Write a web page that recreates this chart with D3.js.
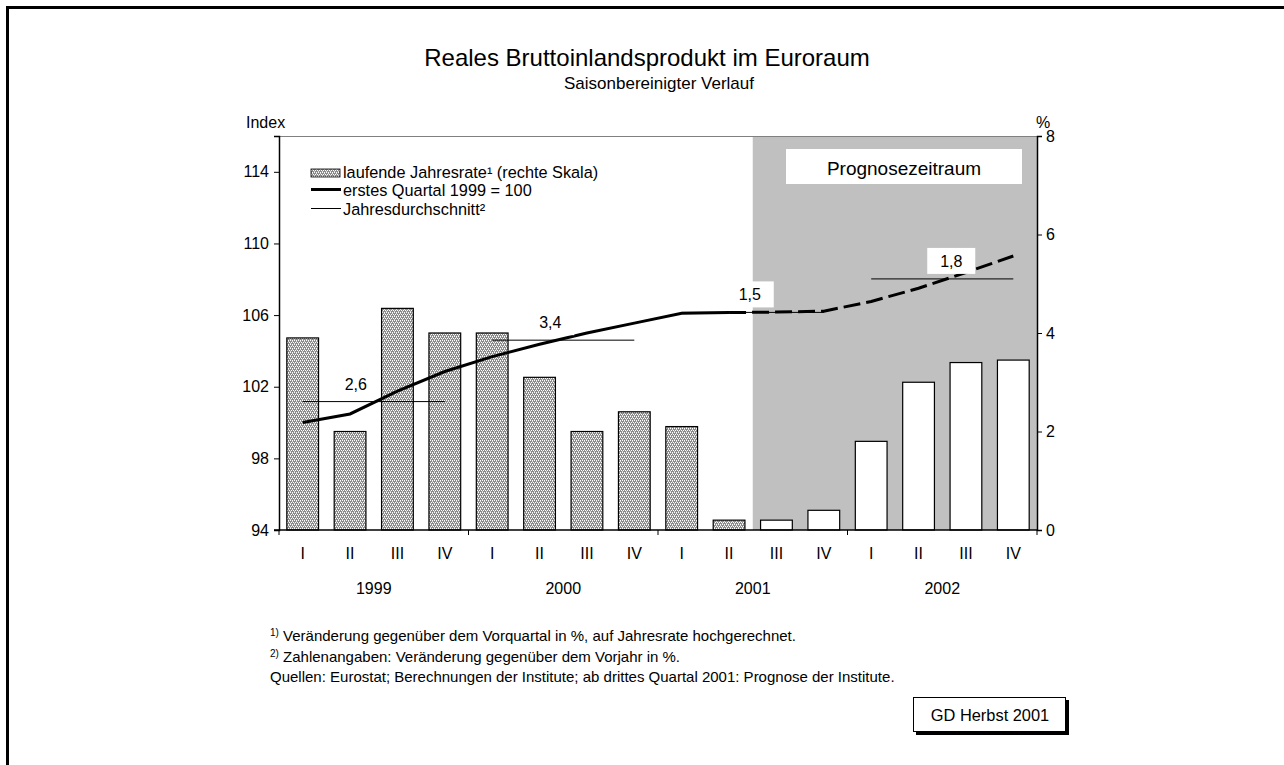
<!DOCTYPE html>
<html>
<head>
<meta charset="utf-8">
<script src="https://cdn.jsdelivr.net/npm/d3@7"></script>
<style>
  body { margin: 0; background: #fff; }
  svg { display: block; font-family: Arial, "Liberation Sans", sans-serif; }
</style>
</head>
<body>
<div id="chart"></div>
<script>
// Data
var years = ["1999", "2000", "2001", "2002"];
var quarters = ["I", "II", "III", "IV"];
// laufende Jahresrate in % (rechte Skala)
var rate = [3.9, 2.0, 4.5, 4.0, 4.0, 3.1, 2.0, 2.4, 2.1, 0.2, 0.2, 0.4, 1.8, 3.0, 3.4, 3.45];
// Index, erstes Quartal 1999 = 100
var index = [100.0, 100.48, 101.75, 102.85, 103.68, 104.37, 105.0, 105.55,
             106.1, 106.14, 106.17, 106.22, 106.76, 107.5, 108.38, 109.3];
// Jahresdurchschnitt (Indexniveau) und Veränderung gegenüber Vorjahr
var yearAvg = [101.17, 104.6, 106.15, 108.02];
var yearAvgLabel = ["2,6", "3,4", "1,5", "1,8"];
var forecastFrom = 10; // 2001 III
var leftTicks = [94, 98, 102, 106, 110, 114];
var rightTicks = [0, 2, 4, 6, 8];

var W = 1284, H = 765;
var X0 = 279, X1 = 1037, Y0 = 530, Y1 = 136;

var svg = d3.select("#chart").append("svg")
    .attr("width", W)
    .attr("height", H);

// bar fill pattern
var pat = svg.append("defs").append("pattern")
    .attr("id", "dots")
    .attr("patternUnits", "userSpaceOnUse")
    .attr("width", 4)
    .attr("height", 4);
pat.append("rect").attr("width", 4).attr("height", 4).attr("fill", "#8c8c8c");
[[0, 0], [2, 0], [1, 2], [3, 2], [0, 1], [2, 3]].forEach(function(p, i) {
    pat.append("rect")
        .attr("x", p[0]).attr("y", p[1])
        .attr("width", 1).attr("height", 1)
        .attr("fill", i < 4 ? "#fff" : "#d8d8d8");
});

// outer frame
svg.append("rect")
    .attr("x", 7.5).attr("y", 7.5)
    .attr("width", W).attr("height", H)
    .attr("fill", "none")
    .attr("stroke", "#000")
    .attr("stroke-width", 3);

var keys = [];
years.forEach(function(y) {
    quarters.forEach(function(q) { keys.push(y + "-" + q); });
});

var x = d3.scaleBand()
    .domain(keys)
    .range([X0, X1])
    .paddingInner(0.33)
    .paddingOuter(0.165);
var cx = function(i) { return x(keys[i]) + x.bandwidth() / 2; };
var yL = d3.scaleLinear().domain([94, 116]).range([Y0, Y1]);
var yR = d3.scaleLinear().domain([0, 8]).range([Y0, Y1]);

// forecast shading
var shadeX = x(keys[forecastFrom]) - x.step() * x.paddingInner() / 2;
svg.append("rect")
    .attr("x", shadeX)
    .attr("y", Y1)
    .attr("width", X1 - shadeX)
    .attr("height", Y0 - Y1)
    .attr("fill", "#c0c0c0");

// top border of plot
svg.append("line")
    .attr("x1", X0).attr("x2", X1)
    .attr("y1", Y1 + 0.5).attr("y2", Y1 + 0.5)
    .attr("stroke", "#808080");

svg.append("rect")
    .attr("x", 786).attr("y", 149)
    .attr("width", 236).attr("height", 35)
    .attr("fill", "#fff");
svg.append("text")
    .attr("x", 904).attr("y", 175)
    .attr("text-anchor", "middle")
    .attr("font-size", 19)
    .text("Prognosezeitraum");

// bars
svg.selectAll(".bar")
    .data(rate)
    .enter()
    .append("rect")
    .attr("class", "bar")
    .attr("x", function(d, i) { return x(keys[i]); })
    .attr("y", function(d) { return yR(d); })
    .attr("width", x.bandwidth())
    .attr("height", function(d) { return Y0 - yR(d); })
    .attr("fill", function(d, i) { return i >= forecastFrom ? "#fff" : "url(#dots)"; })
    .attr("stroke", "#000")
    .attr("stroke-width", 1.2);

// yearly averages
var labelNudge = [-18, -13, -3, 9];
years.forEach(function(y, k) {
    var xa = cx(k * 4), xb = cx(k * 4 + 3);
    svg.append("line")
        .attr("x1", xa).attr("x2", xb)
        .attr("y1", yL(yearAvg[k])).attr("y2", yL(yearAvg[k]))
        .attr("stroke", "#000")
        .attr("stroke-width", 1);
});

// index line
var line = d3.line()
    .x(function(d) { return cx(d.i); })
    .y(function(d) { return yL(d.v); });
var pts = index.map(function(v, i) { return {i: i, v: v}; });
svg.append("path")
    .attr("d", line(pts.slice(0, forecastFrom)))
    .attr("fill", "none")
    .attr("stroke", "#000")
    .attr("stroke-width", 3);
svg.append("path")
    .attr("d", line(pts.slice(forecastFrom - 1)))
    .attr("fill", "none")
    .attr("stroke", "#000")
    .attr("stroke-width", 3)
    .attr("stroke-dasharray", "17,6");

// average labels
years.forEach(function(y, k) {
    var lx = (cx(k * 4) + cx(k * 4 + 3)) / 2 + labelNudge[k];
    var ly = yL(yearAvg[k]) - 18;
    svg.append("rect")
        .attr("x", lx - 24).attr("y", ly - 13)
        .attr("width", 48).attr("height", 26)
        .attr("fill", "#fff");
    svg.append("text")
        .attr("x", lx).attr("y", ly + 6)
        .attr("text-anchor", "middle")
        .attr("font-size", 16)
        .text(yearAvgLabel[k]);
});

// axes
var axL = svg.append("g")
    .attr("transform", "translate(" + X0 + ",0)")
    .call(d3.axisLeft(yL).tickValues(leftTicks).tickSize(5).tickPadding(5));
var axR = svg.append("g")
    .attr("transform", "translate(" + X1 + ",0)")
    .call(d3.axisRight(yR).tickValues(rightTicks).tickSize(5).tickPadding(4));
[axL, axR].forEach(function(ax) {
    ax.select(".domain").attr("stroke", "#000").attr("stroke-width", 1.5);
    ax.selectAll("text").attr("font-size", 16).attr("fill", "#000")
        .attr("font-family", "Arial, 'Liberation Sans', sans-serif");
});

svg.append("line")
    .attr("x1", X0 - 5).attr("x2", X1)
    .attr("y1", Y0).attr("y2", Y0)
    .attr("stroke", "#000")
    .attr("stroke-width", 1.5);

var yearScale = d3.scaleBand().domain(years).range([X0, X1]);
years.concat(["end"]).forEach(function(y, k) {
    var tx = X0 + k * yearScale.step();
    svg.append("line")
        .attr("x1", tx).attr("x2", tx)
        .attr("y1", Y0).attr("y2", Y0 + 5)
        .attr("stroke", "#000");
});

svg.selectAll(".qlab")
    .data(keys)
    .enter()
    .append("text")
    .attr("class", "qlab")
    .attr("x", function(d, i) { return cx(i); })
    .attr("y", 559)
    .attr("text-anchor", "middle")
    .attr("font-size", 16)
    .text(function(d) { return d.split("-")[1]; });

svg.selectAll(".ylab")
    .data(years)
    .enter()
    .append("text")
    .attr("class", "ylab")
    .attr("x", function(d) { return yearScale(d) + yearScale.bandwidth() / 2; })
    .attr("y", 594)
    .attr("text-anchor", "middle")
    .attr("font-size", 16)
    .text(function(d) { return d; });

svg.append("text").attr("x", 246).attr("y", 128).attr("font-size", 16).text("Index");
svg.append("text").attr("x", 1036).attr("y", 128).attr("font-size", 16).text("%");

// titles
svg.append("text")
    .attr("x", 647).attr("y", 66)
    .attr("text-anchor", "middle")
    .attr("font-size", 24)
    .text("Reales Bruttoinlandsprodukt im Euroraum");
svg.append("text")
    .attr("x", 659).attr("y", 89)
    .attr("text-anchor", "middle")
    .attr("font-size", 17)
    .text("Saisonbereinigter Verlauf");

// legend
var lg = svg.append("g").attr("font-size", 16.3);
lg.append("rect")
    .attr("x", 311).attr("y", 169)
    .attr("width", 29).attr("height", 8)
    .attr("fill", "url(#dots)")
    .attr("stroke", "#000")
    .attr("stroke-width", 0.8);
lg.append("text").attr("x", 343).attr("y", 178).text("laufende Jahresrate¹ (rechte Skala)");
lg.append("line")
    .attr("x1", 311).attr("x2", 341)
    .attr("y1", 189.5).attr("y2", 189.5)
    .attr("stroke", "#000").attr("stroke-width", 3);
lg.append("text").attr("x", 343).attr("y", 196).text("erstes Quartal 1999 = 100");
lg.append("line")
    .attr("x1", 311).attr("x2", 341)
    .attr("y1", 208.5).attr("y2", 208.5)
    .attr("stroke", "#000").attr("stroke-width", 1);
lg.append("text").attr("x", 343).attr("y", 215).text("Jahresdurchschnitt²");

// footnotes
var fn = svg.append("g").attr("font-size", 15);
var f1 = fn.append("text").attr("x", 270).attr("y", 641);
f1.append("tspan").attr("font-size", 10).attr("dy", -5).text("1)");
f1.append("tspan").attr("dy", 5).text(" Veränderung gegenüber dem Vorquartal in %, auf Jahresrate hochgerechnet.");
var f2 = fn.append("text").attr("x", 270).attr("y", 662);
f2.append("tspan").attr("font-size", 10).attr("dy", -5).text("2)");
f2.append("tspan").attr("dy", 5).text(" Zahlenangaben: Veränderung gegenüber dem Vorjahr in %.");
fn.append("text").attr("x", 270).attr("y", 682)
    .text("Quellen: Eurostat; Berechnungen der Institute; ab drittes Quartal 2001: Prognose der Institute.");

// source box
svg.append("rect")
    .attr("x", 916).attr("y", 700)
    .attr("width", 153).attr("height", 35)
    .attr("fill", "#000");
svg.append("rect")
    .attr("x", 913.5).attr("y", 697.5)
    .attr("width", 152).attr("height", 34)
    .attr("fill", "#fff")
    .attr("stroke", "#000");
svg.append("text")
    .attr("x", 990).attr("y", 721)
    .attr("text-anchor", "middle")
    .attr("font-size", 16.4)
    .text("GD Herbst 2001");
</script>
</body>
</html>
